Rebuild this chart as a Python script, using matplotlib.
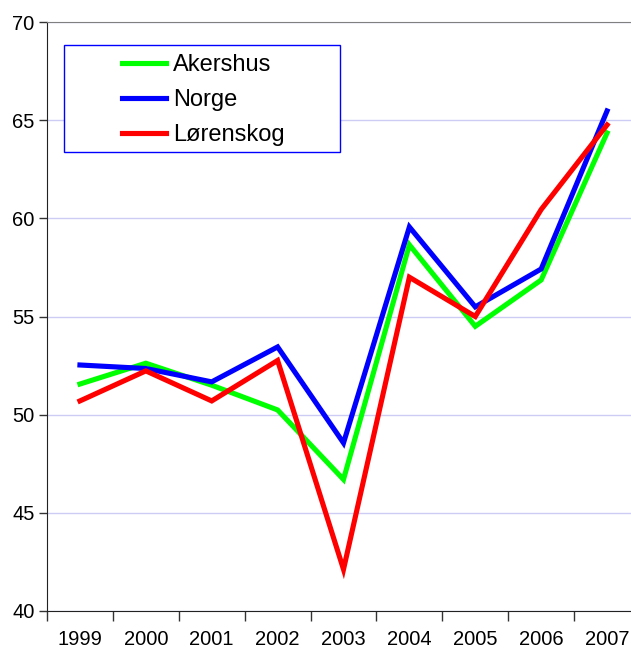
import matplotlib
matplotlib.use("Agg")
import matplotlib.pyplot as plt
from matplotlib.patches import Rectangle

plt.rcParams["font.family"] = ["Liberation Sans", "DejaVu Sans"]

# 数据
years = ["1999", "2000", "2001", "2002", "2003", "2004", "2005", "2006", "2007"]
akershus = [51.56, 52.62, 51.5, 50.24, 46.7, 58.65, 54.5, 56.86, 64.35]
norge = [52.53, 52.35, 51.67, 53.45, 48.56, 59.56, 55.49, 57.42, 65.47]
lorenskog = [50.7, 52.23, 50.7, 52.76, 42.12, 57.0, 55.0, 60.45, 64.76]

COLORS = {
    "Akershus": "#00ff00",
    "Norge": "#0000ff",
    "Lørenskog": "#ff0000",
}

W, H = 631, 650
fig = plt.figure(figsize=(W / 100, H / 100), dpi=100)
# 右边界超出画布（原图被裁剪）
ax = fig.add_axes([47 / W, 1 - 611 / H, 593 / W, 589 / H])

x = range(len(years))
for name, vals in [("Akershus", akershus), ("Norge", norge), ("Lørenskog", lorenskog)]:
    ax.plot(x, vals, color=COLORS[name], linewidth=3.7, label=name,
            solid_joinstyle="miter", zorder=3)

ax.set_xlim(-0.5, len(years) - 0.5)
ax.set_ylim(40, 70)
ax.set_yticks([40, 45, 50, 55, 60, 65, 70])
ax.set_xticks([i - 0.5 for i in range(len(years) + 1)])
ax.set_xticklabels([])
ax.set_xticks(list(x), minor=True)
ax.set_xticklabels(years, minor=True)
ax.tick_params(axis="x", which="major", direction="out", length=7, width=1, color="#333333")
ax.tick_params(axis="x", which="minor", length=0, pad=14, labelsize=14.5)
ax.tick_params(axis="y", direction="out", length=6, width=1, color="#333333", labelsize=14.5, pad=3)

ax.grid(axis="y", color="#ccccf5", linewidth=1, zorder=0)
ax.spines["top"].set_color("#808080")
ax.spines["right"].set_visible(False)
ax.spines["left"].set_color("#222222")
ax.spines["bottom"].set_color("#222222")

# 图例框（手动绘制）
frame = Rectangle((64 / W, 1 - 152 / H), 276 / W, 107 / H,
                  transform=fig.transFigure, facecolor="white",
                  edgecolor="#0000ff", linewidth=1, zorder=4)
ax.add_patch(frame)
frame.set_clip_on(False)
leg = ax.legend(loc="upper left", bbox_to_anchor=(122 / W, 1 - 54 / H),
                bbox_transform=fig.transFigure, fontsize=17, frameon=False,
                handlelength=1.85, handletextpad=0.3, borderpad=0,
                labelspacing=0.55, borderaxespad=0)
leg.set_zorder(5)

fig.savefig("out.png", dpi=100)
